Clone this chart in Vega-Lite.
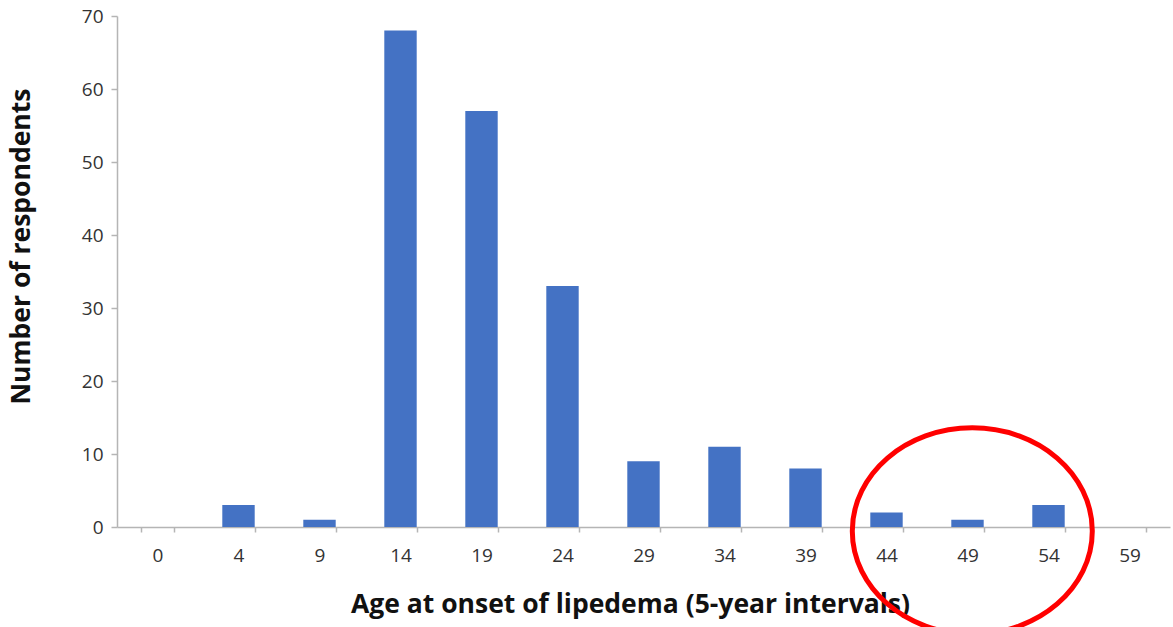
{
  "$schema": "https://vega.github.io/schema/vega-lite/v6.json",
  "width": 1053,
  "height": 511,
  "autosize": {"type": "none"},
  "padding": {"left": 117, "top": 16, "right": 3, "bottom": 100},
  "background": "white",
  "config": {
    "view": {"stroke": null},
    "font": "Open Sans",
    "axis": {
      "domainColor": "#b5b5b5",
      "tickColor": "#b5b5b5",
      "domainWidth": 1.5,
      "tickWidth": 1.5,
      "labelColor": "#333333",
      "labelFont": "Open Sans",
      "labelFontSize": 19,
      "titleFont": "Open Sans",
      "titleFontWeight": "bold",
      "titleColor": "#111111",
      "titleFontSize": 26.5,
      "grid": false
    }
  },
  "layer": [
    {
      "data": {
        "values": [
          {"age": "0", "count": 0},
          {"age": "4", "count": 3},
          {"age": "9", "count": 1},
          {"age": "14", "count": 68},
          {"age": "19", "count": 57},
          {"age": "24", "count": 33},
          {"age": "29", "count": 9},
          {"age": "34", "count": 11},
          {"age": "39", "count": 8},
          {"age": "44", "count": 2},
          {"age": "49", "count": 1},
          {"age": "54", "count": 3},
          {"age": "59", "count": 0}
        ]
      },
      "mark": {"type": "bar", "color": "#4472c4"},
      "encoding": {
        "x": {
          "field": "age",
          "type": "ordinal",
          "sort": null,
          "scale": {"paddingInner": 0.6, "paddingOuter": 0.3},
          "axis": {
            "title": "Age at onset of lipedema (5-year intervals)",
            "labelAngle": 0,
            "tickBand": "extent",
            "tickSize": 5,
            "labelPadding": 14,
            "titlePadding": 26,
            "titleX": 513
          }
        },
        "y": {
          "field": "count",
          "type": "quantitative",
          "scale": {"domain": [0, 70], "nice": false},
          "axis": {
            "title": "Number of respondents",
            "values": [0, 10, 20, 30, 40, 50, 60, 70],
            "tickSize": 6,
            "labelPadding": 8,
            "titlePadding": 46,
            "titleY": 230
          }
        }
      }
    },
    {
      "data": {"values": [{"age": "49", "count": 0}]},
      "mark": {
        "type": "point",
        "shape": "M -1 0 A 1 0.86 0 1 0 1 0 A 1 0.86 0 1 0 -1 0 Z",
        "size": 57600,
        "filled": false,
        "stroke": "#ff0000",
        "strokeWidth": 5,
        "opacity": 1,
        "clip": false
      },
      "encoding": {
        "x": {"field": "age", "type": "ordinal", "sort": null},
        "y": {"field": "count", "type": "quantitative"},
        "xOffset": {"value": 21},
        "yOffset": {"value": 4}
      }
    }
  ]
}
